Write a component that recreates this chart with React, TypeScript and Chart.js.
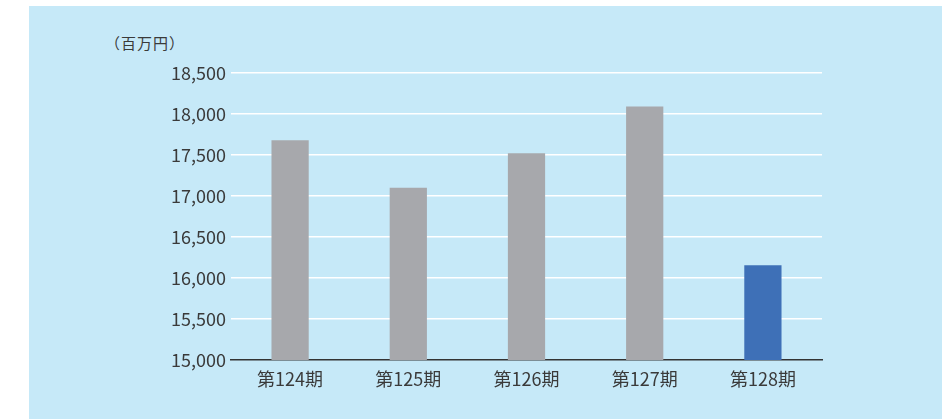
import React, { useEffect, useRef } from "react";
import { Chart, registerables } from "chart.js";

Chart.register(...registerables);

const categories = ["第124期", "第125期", "第126期", "第127期", "第128期"];
const values = [17680, 17100, 17520, 18090, 16155];
const barColors = ["#A7A8AC", "#A7A8AC", "#A7A8AC", "#A7A8AC", "#3E70B7"];
const unitLabel = "（百万円）";
const yMin = 15000;
const yMax = 18500;
const yStep = 500;

const FONT = "'Noto Sans CJK JP', 'Noto Sans', sans-serif";

export default function App() {
  const ref = useRef<HTMLCanvasElement | null>(null);

  useEffect(() => {
    if (!ref.current) return;
    const chart = new Chart(ref.current, {
      type: "bar",
      data: {
        labels: categories,
        datasets: [
          {
            data: values,
            backgroundColor: barColors,
            borderWidth: 0,
            barPercentage: 0.315,
            categoryPercentage: 1,
          },
        ],
      },
      options: {
        responsive: false,
        animation: false,
        layout: { padding: { left: 0, right: 120, top: 73, bottom: 0 } },
        plugins: { legend: { display: false }, tooltip: { enabled: false } },
        scales: {
          x: {
            grid: { display: false, drawTicks: false },
            border: { display: true, color: "#333333", width: 1.5 },
            ticks: {
              color: "#3a3a3a",
              font: { family: FONT, size: 18 },
              padding: 8,
            },
            afterFit: (s: any) => {
              s.height = 59;
            },
          },
          y: {
            min: yMin,
            max: yMax,
            grid: {
              color: (ctx: any) =>
                ctx.tick && ctx.tick.value === yMin ? "rgba(0,0,0,0)" : "#FFFFFF",
              lineWidth: 1.5,
              drawTicks: false,
            },
            border: { display: false },
            ticks: {
              stepSize: yStep,
              color: "#3a3a3a",
              font: { family: FONT, size: 18 },
              padding: 5,
              callback: (v: any) => Number(v).toLocaleString("en-US"),
            },
            afterFit: (s: any) => {
              s.width = 231;
            },
          },
        },
      },
    });
    return () => chart.destroy();
  }, []);

  return (
    <div
      style={{
        position: "fixed",
        left: 0,
        top: 0,
        width: 942,
        height: 419,
        background: "#FFFFFF",
        overflow: "hidden",
      }}
    >
      <div
        style={{
          position: "absolute",
          left: 29,
          top: 6,
          width: 913,
          height: 413,
          background: "#C6E9F8",
        }}
      />
      <div
        style={{
          position: "absolute",
          left: 105,
          top: 32,
          fontFamily: FONT,
          fontSize: 15,
          letterSpacing: 1,
          color: "#3a3a3a",
          lineHeight: "22px",
          whiteSpace: "nowrap",
        }}
      >
        {unitLabel}
      </div>
      <canvas
        ref={ref}
        width={942}
        height={419}
        style={{ position: "absolute", left: 0, top: 0, width: 942, height: 419 }}
      />
    </div>
  );
}
